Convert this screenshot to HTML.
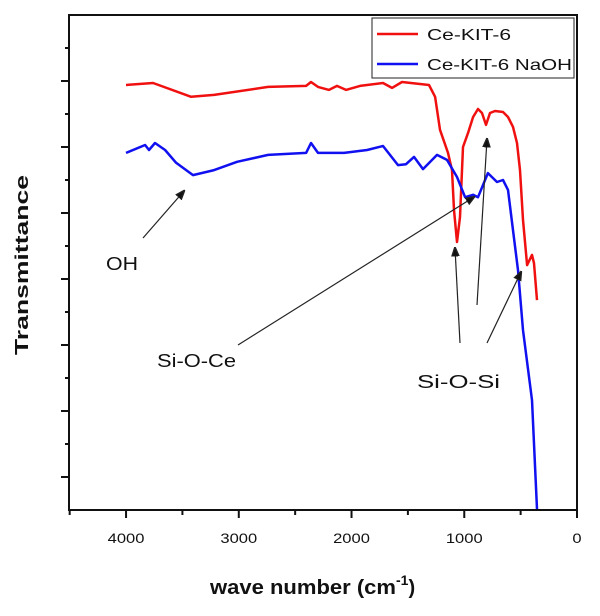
<!DOCTYPE html>
<html><head><meta charset="utf-8"><style>
html,body{margin:0;padding:0;background:#fff;}
svg{display:block;font-family:"Liberation Sans",Arial,sans-serif;}
</style></head><body>
<svg id="chart" width="600" height="616" viewBox="0 0 600 616">
<g id="axes"></g>
<g id="series"></g>
<g stroke="#222" stroke-width="1.2" fill="#222">
  <defs><marker id="ah" markerWidth="8" markerHeight="8" refX="7" refY="4" orient="auto"><path d="M0,1 L8,4 L0,7 Z" fill="#111"/></marker></defs>
  <line x1="143" y1="238" x2="184" y2="191" marker-end="url(#ah)"/>
  <line x1="238" y1="345" x2="474" y2="197" marker-end="url(#ah)"/>
  <line x1="460" y1="343" x2="455" y2="248" marker-end="url(#ah)"/>
  <line x1="477" y1="305" x2="487" y2="139" marker-end="url(#ah)"/>
  <line x1="487" y1="343" x2="521" y2="272" marker-end="url(#ah)"/>
  <text x="106" y="270" font-size="18" textLength="32" lengthAdjust="spacingAndGlyphs" stroke="none" fill="#111">OH</text>
  <text x="157" y="367" font-size="18" textLength="79" lengthAdjust="spacingAndGlyphs" stroke="none" fill="#111">Si-O-Ce</text>
  <text x="417" y="388" font-size="18" textLength="83" lengthAdjust="spacingAndGlyphs" stroke="none" fill="#111">Si-O-Si</text>
</g>
<g>
  <rect x="372" y="18" width="202" height="60" fill="#fff" stroke="#222" stroke-width="1"/>
  <line x1="377" y1="34" x2="418" y2="34" stroke="#f01010" stroke-width="2.5"/>
  <text x="427" y="40" font-size="16" textLength="84" lengthAdjust="spacingAndGlyphs" fill="#111">Ce-KIT-6</text>
  <line x1="377" y1="64" x2="418" y2="64" stroke="#1010f0" stroke-width="2.5"/>
  <text x="427" y="70" font-size="16" textLength="145" lengthAdjust="spacingAndGlyphs" fill="#111">Ce-KIT-6 NaOH</text>
</g>
<text transform="translate(28,265) rotate(-90)" text-anchor="middle" font-size="18" font-weight="bold" textLength="180" lengthAdjust="spacingAndGlyphs" fill="#111">Transmittance</text>
<text x="210" y="594" font-size="20" font-weight="bold" fill="#111"><tspan textLength="186" lengthAdjust="spacingAndGlyphs">wave number (cm</tspan><tspan dy="-9" font-size="14">-1</tspan><tspan dy="9">)</tspan></text>
</svg>
<script>
const xTicks = [4000, 3000, 2000, 1000, 0];
const redWn = [4000,3760,3423,3219,2740,2403,2359,2297,2200,2129,2049,1925,1721,1641,1552,1313,1259,1215,1144,1109,1091,1064,1038,1011,967,922,878,843,807,772,727,656,612,568,532,506,479,443,399,381,355];
const redVal = [12.88,12.94,12.52,12.58,12.82,12.85,12.97,12.82,12.73,12.85,12.73,12.85,12.94,12.79,12.97,12.88,12.52,11.52,10.82,10.30,9.09,8.12,8.88,11.0,11.42,11.91,12.15,12.03,11.67,12.03,12.09,12.06,11.91,11.61,11.12,10.30,8.79,7.42,7.73,7.48,6.36];
const blueWn = [4000,3831,3796,3743,3654,3556,3406,3219,3015,2740,2403,2359,2297,2066,1862,1721,1588,1517,1446,1366,1242,1153,1064,993,922,878,790,710,656,612,568,523,479,399,355];
const blueVal = [10.82,11.06,10.91,11.12,10.91,10.52,10.15,10.30,10.55,10.76,10.82,11.12,10.82,10.82,10.91,11.03,10.45,10.48,10.70,10.33,10.76,10.61,10.09,9.48,9.55,9.48,10.21,9.94,10.0,9.70,8.48,7.27,5.45,3.33,0.03];

const X0=69, X1=577, Y0=510, Y1=15;
const xMin=4506, xMax=0, yMin=0, yMax=15;
const xs = v => X0 + (xMin - v) / (xMin - xMax) * (X1 - X0);
const ys = v => Y0 - (v - yMin) / (yMax - yMin) * (Y0 - Y1);
const NS = 'http://www.w3.org/2000/svg';
function mk(tag, attrs, parent){const e=document.createElementNS(NS,tag);for(const k in attrs)e.setAttribute(k,attrs[k]);parent.appendChild(e);return e;}
const axes = document.getElementById('axes');
const frame = mk('rect',{x:X0,y:Y1,width:X1-X0,height:Y0-Y1,fill:'none',stroke:'#111','stroke-width':2},axes);


for (let v=4500; v>=0; v-=500){
  const major = v%1000===0;
  const t = mk('line',{x1:xs(v),x2:xs(v),y1:Y0,y2:Y0+(major?8:5),stroke:'#111','stroke-width':2},axes);
  
  
}
xTicks.forEach(v=>{
  const s = String(v);
  const t = mk('text',{x:xs(v),y:543,'text-anchor':'middle','font-size':14,fill:'#111',textLength:s.length*9.2,lengthAdjust:'spacingAndGlyphs'},axes);
  t.textContent = s;
  
  
});
for (let i=1;i<15;i++){
  const major = i%2===1;
  const t = mk('line',{x1:X0,x2:X0-(major?8:4),y1:ys(i),y2:ys(i),stroke:'#111','stroke-width':2},axes);
  
  
}
const series = document.getElementById('series');
function draw(wn, val, color, name){
  const pts = wn.map((w,i)=>xs(w).toFixed(1)+','+ys(val[i]).toFixed(1)).join(' ');
  const p = mk('polyline',{points:pts,fill:'none',stroke:color,'stroke-width':2.5,'stroke-linejoin':'round'},series);
  
  
}
draw(redWn, redVal, '#f01010', 'series-ce-kit-6');
draw(blueWn, blueVal, '#1010f0', 'series-ce-kit-6-naoh');
</script>
</body></html>
